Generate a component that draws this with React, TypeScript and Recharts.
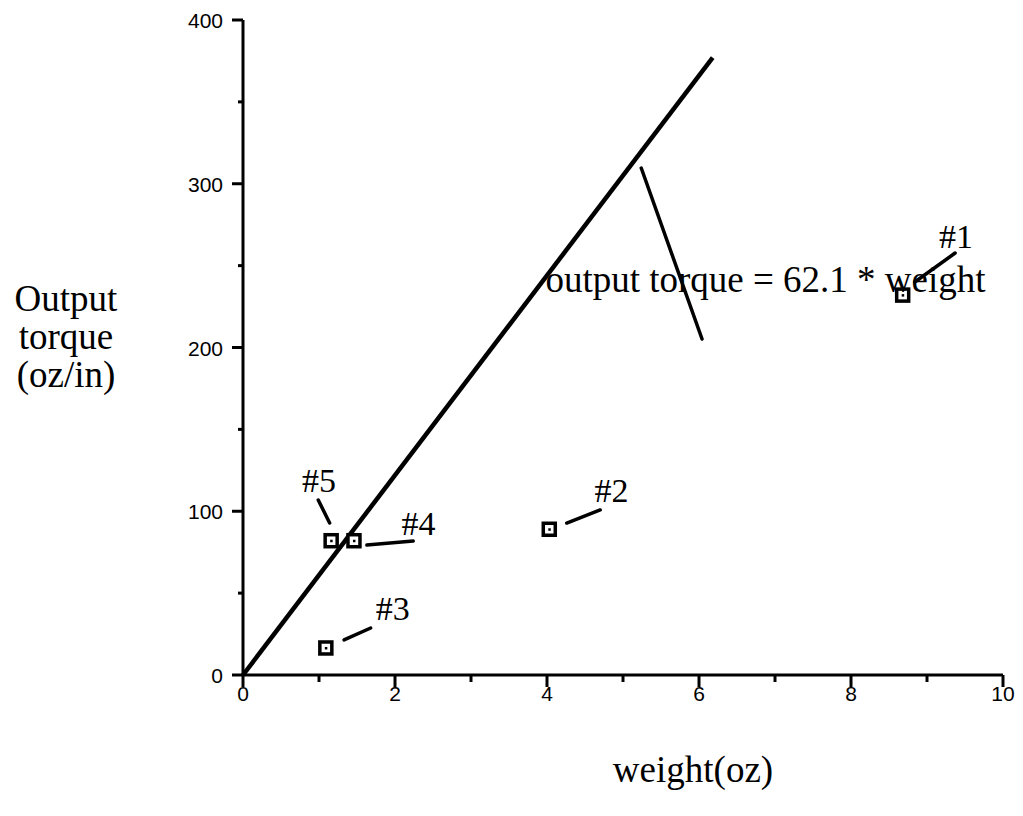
import React from "react";
import { ReferenceLine, Scatter, ScatterChart, XAxis, YAxis } from "recharts";

const xTicks = [0, 1, 2, 3, 4, 5, 6, 7, 8, 9, 10];
const yTicks = [0, 50, 100, 150, 200, 250, 300, 350, 400];

// measured motors: weight (oz) vs output torque (oz/in)
const motors = [
  { x: 8.68, y: 232, name: "#1" },
  { x: 4.03, y: 89, name: "#2" },
  { x: 1.09, y: 16.5, name: "#3" },
  { x: 1.46, y: 82, name: "#4" },
  { x: 1.16, y: 82, name: "#5" },
];

const fitLine = [
  { x: 0, y: 0 },
  { x: 6.18, y: 377 },
];

const labels = [
  { x: 9.38, y: 261, text: "#1" },
  { x: 4.85, y: 105.6, text: "#2" },
  { x: 1.97, y: 33.6, text: "#3" },
  { x: 2.31, y: 85.5, text: "#4" },
  { x: 1.0, y: 111.8, text: "#5" },
];

const leaders = [
  [{ x: 8.84, y: 240 }, { x: 9.37, y: 257.7 }],
  [{ x: 4.26, y: 92.8 }, { x: 4.7, y: 100.8 }],
  [{ x: 1.33, y: 21.4 }, { x: 1.68, y: 28.7 }],
  [{ x: 1.63, y: 79.4 }, { x: 2.24, y: 81.8 }],
  [{ x: 0.99, y: 106.9 }, { x: 1.14, y: 92.8 }],
  [{ x: 5.24, y: 309.6 }, { x: 6.04, y: 205.2 }],
];

const equation = [{ x: 6.875, y: 234, text: "output torque = 62.1 * weight" }];

const serif = "'Liberation Serif', 'Times New Roman', serif";
const sans = "'Liberation Sans', Arial, sans-serif";

function XTick(props: any) {
  const { x, y, payload } = props;
  const major = payload.value % 2 === 0;
  return (
    <g>
      <line x1={x} x2={x} y1={y} y2={y + (major ? 12 : 7)} stroke="#000" strokeWidth={3} />
      {major && (
        <text x={x} y={y + 26} textAnchor="middle" fontSize={21} fontFamily={sans} fill="#000">
          {payload.value}
        </text>
      )}
    </g>
  );
}

function YTick(props: any) {
  const { x, y, payload } = props;
  const major = payload.value % 100 === 0;
  return (
    <g>
      <line x1={x} x2={x - (major ? 11 : 5)} y1={y} y2={y} stroke="#000" strokeWidth={3} />
      {major && (
        <text x={x - 20} y={y + 8} textAnchor="end" fontSize={21} fontFamily={sans} fill="#000">
          {payload.value}
        </text>
      )}
    </g>
  );
}

const Marker = (p: any) => (
  <g>
    <rect x={p.cx - 6} y={p.cy - 6} width={12} height={12} fill="#fff" stroke="#000" strokeWidth={3.5} />
    <rect x={p.cx - 1} y={p.cy - 1} width={2.5} height={2.5} fill="#000" />
  </g>
);

const TagText = (p: any) => (
  <text x={p.cx} y={p.cy} textAnchor="middle" fontSize={34} fontFamily={serif} fill="#000">
    {p.payload.text}
  </text>
);

const EqText = (p: any) => (
  <text x={p.cx} y={p.cy} textAnchor="middle" fontSize={37} fontFamily={serif} fill="#000">
    {p.payload.text}
  </text>
);

export default function App() {
  return (
    <div style={{ position: "relative", width: 1023, height: 816, background: "#fff" }}>
      <style>{"body{margin:0}"}</style>
      <ScatterChart width={1023} height={816} margin={{ top: 20, right: 20, bottom: 81, left: 183 }}>
        <XAxis
          type="number"
          dataKey="x"
          domain={[0, 10]}
          ticks={xTicks}
          interval={0}
          tickSize={0}
          tickMargin={0}
          tickLine={false}
          tick={<XTick />}
          axisLine={{ stroke: "#000", strokeWidth: 3 }}
          height={60}
          allowDataOverflow
        />
        <YAxis
          type="number"
          dataKey="y"
          domain={[0, 400]}
          ticks={yTicks}
          interval={0}
          tickSize={0}
          tickMargin={0}
          tickLine={false}
          tick={<YTick />}
          axisLine={{ stroke: "#000", strokeWidth: 3 }}
          width={60}
          allowDataOverflow
        />
        <ReferenceLine segment={fitLine} stroke="#000" strokeWidth={4.5} />
        {leaders.map((seg, i) => (
          <ReferenceLine key={i} segment={seg} stroke="#000" strokeWidth={3.5} strokeLinecap="round" />
        ))}
        <Scatter data={motors} shape={<Marker />} isAnimationActive={false} />
        <Scatter data={labels} shape={<TagText />} isAnimationActive={false} />
        <Scatter data={equation} shape={<EqText />} isAnimationActive={false} />
      </ScatterChart>
      <div
        style={{
          position: "absolute",
          left: 0,
          top: 280,
          width: 132,
          textAlign: "center",
          fontFamily: serif,
          fontSize: 37,
          lineHeight: "38px",
          color: "#000",
        }}
      >
        Output
        <br />
        torque
        <br />
        (oz/in)
      </div>
      <div
        style={{
          position: "absolute",
          left: 543,
          top: 748,
          width: 300,
          textAlign: "center",
          fontFamily: serif,
          fontSize: 37,
          color: "#000",
        }}
      >
        weight(oz)
      </div>
    </div>
  );
}
